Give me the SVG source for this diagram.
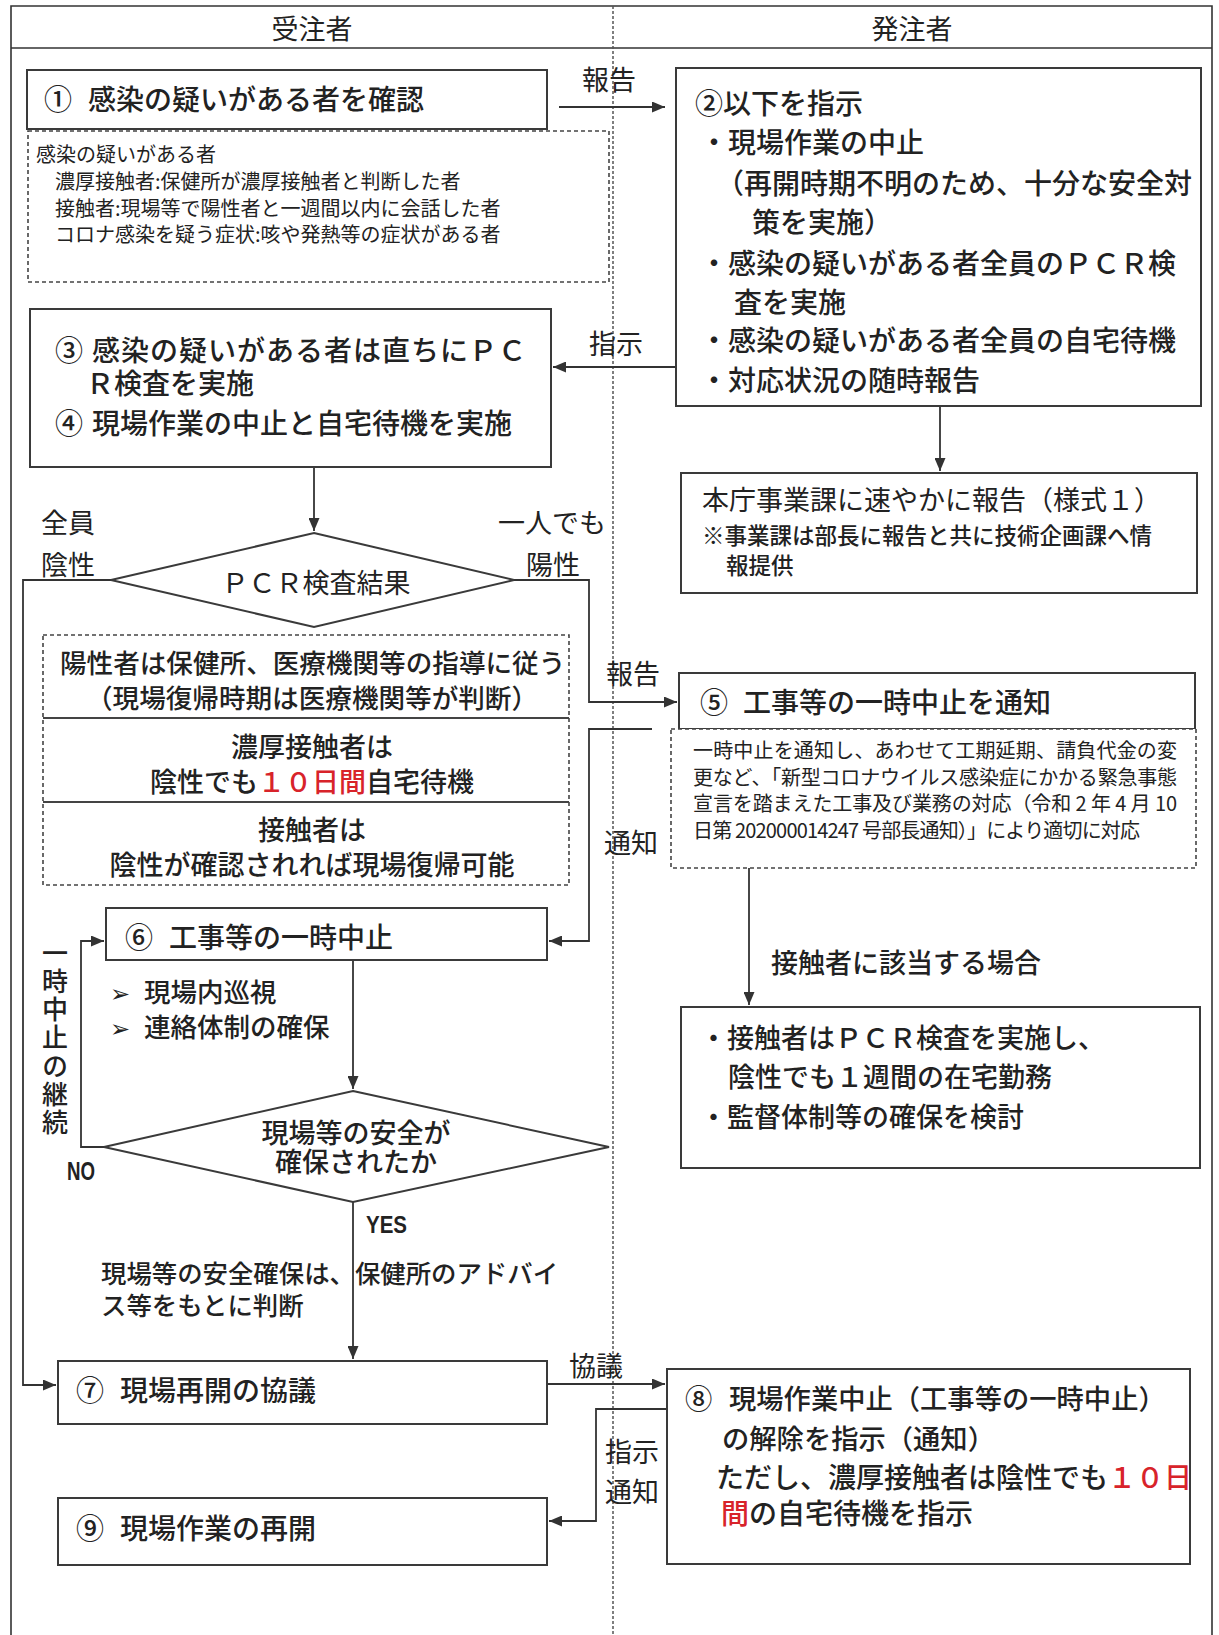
<svg xmlns="http://www.w3.org/2000/svg" width="1219" height="1635" viewBox="0 0 1219 1635">
<style>
.box{fill:#fff;stroke:#3a3a3a;stroke-width:2}
.dbox{fill:#fff;stroke:#444;stroke-width:1.6;stroke-dasharray:4 3}
.sep{stroke:#444;stroke-width:2}
.frame{fill:none;stroke:#333;stroke-width:1.6}
.div{stroke:#555;stroke-width:1.5;stroke-dasharray:3 2}
.conn{fill:none;stroke:#333;stroke-width:1.8}
.dia{fill:#fff;stroke:#3a3a3a;stroke-width:2}
text{font-family:'Noto Sans CJK JP','Noto Sans CJK SC',sans-serif;fill:#222}
.b{font-weight:500}
.m{font-size:28px}
.l{font-size:27px}
.s{font-size:20px}
.c{text-anchor:middle}
.red{fill:#d8232a}
.lat{font-family:'Liberation Sans',sans-serif;font-weight:bold}
.vt{writing-mode:vertical-rl;font-size:26px;letter-spacing:2.2px}
.arr{font-family:'DejaVu Sans',sans-serif;font-size:24px}
</style>
<defs>
<marker id="ah" viewBox="0 0 13 11" refX="13" refY="5.5" markerWidth="13" markerHeight="11" markerUnits="userSpaceOnUse" orient="auto">
<path d="M0,0 L13,5.5 L0,11 z" fill="#333"/>
</marker>
</defs>
<rect width="1219" height="1635" fill="#fff"/>

<g id="frame">
<path class="frame" d="M11,1635 V6 H1212 V1635"/>
<path class="frame" d="M11,48 H1212"/>
<line class="div" x1="613" y1="6" x2="613" y2="1635"/>
<text class="l c" x="312" y="39">受注者</text>
<text class="l c" x="912" y="39">発注者</text>
</g>

<g id="connectors">
<path class="conn" d="M559,107 H665" marker-end="url(#ah)"/>
<path class="conn" d="M676,367 H553" marker-end="url(#ah)"/>
<path class="conn" d="M314,467 V531" marker-end="url(#ah)"/>
<path class="conn" d="M940,406 V471" marker-end="url(#ah)"/>
<path class="conn" d="M111,580 H23 V1385 H56" marker-end="url(#ah)"/>
<path class="conn" d="M514,580 H589 V702 H677" marker-end="url(#ah)"/>
<path class="conn" d="M652,729 H589 V941 H549" marker-end="url(#ah)"/>
<path class="conn" d="M353,960 V1089" marker-end="url(#ah)"/>
<path class="conn" d="M104,1147 H81 V941 H104" marker-end="url(#ah)"/>
<path class="conn" d="M353,1202 V1359" marker-end="url(#ah)"/>
<path class="conn" d="M547,1384 H665" marker-end="url(#ah)"/>
<path class="conn" d="M667,1409 H596 V1521 H549" marker-end="url(#ah)"/>
<path class="conn" d="M749,868 V1005" marker-end="url(#ah)"/>
<text class="l" x="582" y="90">報告</text>
<text class="l" x="589" y="354">指示</text>
<text class="l" x="41" y="533">全員</text>
<text class="l" x="41" y="575">陰性</text>
<text class="l" x="498" y="533">一人でも</text>
<text class="l" x="526" y="575">陽性</text>
<text class="l" x="606" y="684">報告</text>
<text class="l" x="604" y="853">通知</text>
<text class="vt b" x="55" y="940">一時中止の継続</text>
<text class="lat" x="67" y="1180" font-size="26" textLength="28" lengthAdjust="spacingAndGlyphs">NO</text>
<text class="lat" x="366" y="1233" font-size="24" textLength="41" lengthAdjust="spacingAndGlyphs">YES</text>
<text class="l" x="569" y="1376">協議</text>
<text class="l" x="605" y="1462">指示</text>
<text class="l" x="605" y="1502">通知</text>
</g>

<g id="n1">
<rect class="box" x="27" y="70" width="520" height="59"/>
<text class="m b" x="44" y="110">① <tspan x="88">感染の疑いがある者を確認</tspan></text>
</g>

<g id="n1note">
<rect class="dbox" x="28" y="131" width="581" height="151"/>
<text class="s" x="36" y="162">感染の疑いがある者</text>
<text class="s" x="55" y="189">濃厚接触者:保健所が濃厚接触者と判断した者</text>
<text class="s" x="55" y="216">接触者:現場等で陽性者と一週間以内に会話した者</text>
<text class="s" x="55" y="242">コロナ感染を疑う症状:咳や発熱等の症状がある者</text>
</g>

<g id="n2">
<rect class="box" x="676" y="68" width="525" height="338"/>
<text class="m b" x="695" y="114">②以下を指示</text>
<text class="m b" x="700" y="153">・現場作業の中止</text>
<text class="m b" x="716" y="194">（再開時期不明のため、十分な安全対</text>
<text class="m b" x="752" y="233">策を実施）</text>
<text class="m b" x="700" y="274">・感染の疑いがある者全員のＰＣＲ検</text>
<text class="m b" x="734" y="313">査を実施</text>
<text class="m b" x="700" y="351">・感染の疑いがある者全員の自宅待機</text>
<text class="m b" x="700" y="391">・対応状況の随時報告</text>
</g>

<g id="n3">
<rect class="box" x="30" y="309" width="521" height="158"/>
<text class="m b" x="55" y="361">③ <tspan x="92" letter-spacing="1">感染の疑いがある者は直ちにＰＣ</tspan></text>
<text class="m b" x="86" y="394">Ｒ検査を実施</text>
<text class="m b" x="55" y="434">④ <tspan x="92">現場作業の中止と自宅待機を実施</tspan></text>
</g>

<g id="report">
<rect class="box" x="681" y="473" width="516" height="120"/>
<text class="l" x="702" y="510">本庁事業課に速やかに報告（様式１）</text>
<text class="b" x="702" y="544" font-size="22.5">※事業課は部長に報告と共に技術企画課へ情</text>
<text class="b" x="726" y="574" font-size="22.5">報提供</text>
</g>

<g id="pcr">
<polygon class="dia" points="314,533 514,580 314,627 111,580"/>
<text class="l c" x="316" y="593">ＰＣＲ検査結果</text>
</g>

<g id="pcrnote">
<rect class="dbox" x="43" y="635" width="526" height="250"/>
<line class="sep" x1="43" y1="718" x2="569" y2="718"/>
<line class="sep" x1="43" y1="802" x2="569" y2="802"/>
<text class="b" x="60" y="673" font-size="26.6">陽性者は保健所、医療機関等の指導に従う</text>
<text class="b c" x="312" y="708" font-size="26.6">（現場復帰時期は医療機関等が判断）</text>
<text class="l b c" x="312" y="757">濃厚接触者は</text>
<text class="l b c" x="312" y="792">陰性でも<tspan class="red">１０日間</tspan>自宅待機</text>
<text class="l b c" x="312" y="840">接触者は</text>
<text class="l b c" x="312" y="875">陰性が確認されれば現場復帰可能</text>
</g>

<g id="n5">
<rect class="box" x="679" y="673" width="516" height="56"/>
<text class="m b" x="700" y="713">⑤ <tspan x="743">工事等の一時中止を通知</tspan></text>
</g>

<g id="n5note">
<rect class="dbox" x="671" y="729" width="525" height="139"/>
<text class="s" x="693" y="758" textLength="484" lengthAdjust="spacing">一時中止を通知し、あわせて工期延期、請負代金の変</text>
<text class="s" x="693" y="785" textLength="484" lengthAdjust="spacing">更など、「新型コロナウイルス感染症にかかる緊急事態</text>
<text class="s" x="693" y="811" textLength="484" lengthAdjust="spacing">宣言を踏まえた工事及び業務の対応（令和 2 年 4 月 10</text>
<text class="s" x="693" y="838" textLength="447" lengthAdjust="spacing">日第 202000014247 号部長通知）」により適切に対応</text>
</g>

<g id="contact">
<text class="l b" x="771" y="973">接触者に該当する場合</text>
<rect class="box" x="681" y="1007" width="519" height="161"/>
<text class="l b" x="700" y="1048">・接触者はＰＣＲ検査を実施し、</text>
<text class="l b" x="728" y="1087">陰性でも１週間の在宅勤務</text>
<text class="l b" x="700" y="1127">・監督体制等の確保を検討</text>
</g>

<g id="n6">
<rect class="box" x="106" y="908" width="441" height="52"/>
<text class="m b" x="125" y="948">⑥ <tspan x="169">工事等の一時中止</tspan></text>
<text class="b" x="110" y="1002" font-size="26.5"><tspan class="arr">➢</tspan> <tspan x="144">現場内巡視</tspan></text>
<text class="b" x="110" y="1037" font-size="26.5"><tspan class="arr">➢</tspan> <tspan x="144">連絡体制の確保</tspan></text>
</g>

<g id="safety">
<polygon class="dia" points="353,1091 609,1147 353,1202 104,1147"/>
<text class="l b c" x="356" y="1143">現場等の安全が</text>
<text class="l b c" x="356" y="1172">確保されたか</text>
<text class="b" x="101" y="1283" font-size="25.4">現場等の安全確保は、保健所のアドバイ</text>
<text class="b" x="101" y="1315" font-size="25.4">ス等をもとに判断</text>
</g>

<g id="n7">
<rect class="box" x="58" y="1361" width="489" height="63"/>
<text class="m b" x="76" y="1401">⑦ <tspan x="120">現場再開の協議</tspan></text>
</g>

<g id="n8">
<rect class="box" x="667" y="1369" width="523" height="195"/>
<text class="b" x="685" y="1409" font-size="27.3">⑧ <tspan x="729">現場作業中止（工事等の一時中止）</tspan></text>
<text class="b" x="722" y="1449" font-size="27.3">の解除を指示（通知）</text>
<text class="m b" x="716" y="1488">ただし、濃厚接触者は陰性でも<tspan class="red">１０日</tspan></text>
<text class="m b" x="721" y="1524"><tspan class="red">間</tspan>の自宅待機を指示</text>
</g>

<g id="n9">
<rect class="box" x="58" y="1498" width="489" height="67"/>
<text class="m b" x="76" y="1539">⑨ <tspan x="120">現場作業の再開</tspan></text>
</g>
</svg>
